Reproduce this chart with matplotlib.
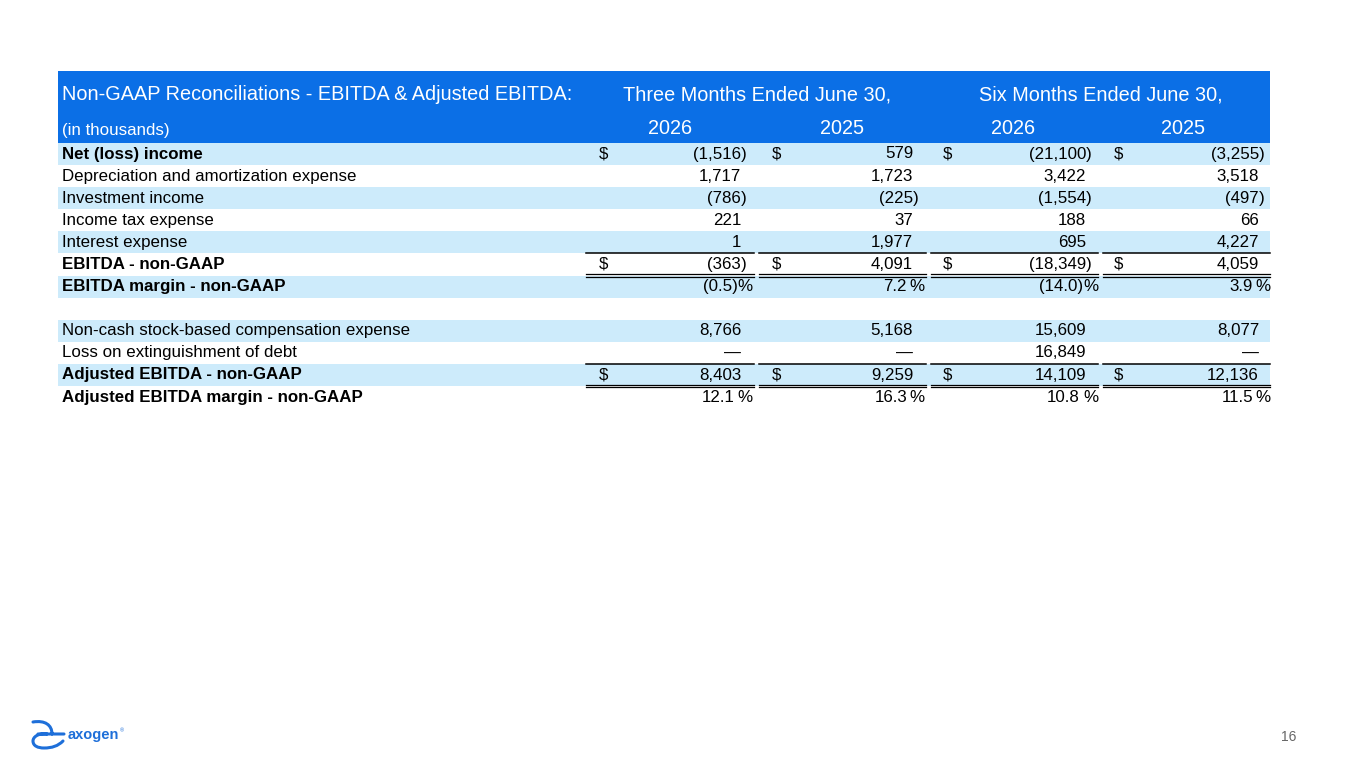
import matplotlib
matplotlib.use("Agg")
import matplotlib.pyplot as plt
from matplotlib.patches import Rectangle, PathPatch
from matplotlib.path import Path

plt.rcParams['font.family'] = ['Liberation Sans', 'DejaVu Sans']

# Dati della tabella
title = "Non-GAAP Reconciliations - EBITDA & Adjusted EBITDA:"
units = "(in thousands)"
periods = ["Three Months Ended June 30,", "Six Months Ended June 30,"]
years = ["2026", "2025", "2026", "2025"]

row_labels = [
    "Net (loss) income",
    "Depreciation and amortization expense",
    "Investment income",
    "Income tax expense",
    "Interest expense",
    "EBITDA - non-GAAP",
    "EBITDA margin - non-GAAP",
    "",
    "Non-cash stock-based compensation expense",
    "Loss on extinguishment of debt",
    "Adjusted EBITDA - non-GAAP",
    "Adjusted EBITDA margin - non-GAAP",
]
bold_rows = [0, 5, 6, 10, 11]
dollar_rows = [0, 5, 10]
pct_rows = [6, 11]
shaded_rows = [0, 2, 4, 6, 8, 10]

# None = riga vuota, 0 = trattino
q_2026 = [-1516, 1717, -786, 221, 1, -363, -0.5, None, 8766, 0, 8403, 12.1]
q_2025 = [579, 1723, -225, 37, 1977, 4091, 7.2, None, 5168, 0, 9259, 16.3]
h_2026 = [-21100, 3422, -1554, 188, 695, -18349, -14.0, None, 15609, 16849, 14109, 10.8]
h_2025 = [-3255, 3518, -497, 66, 4227, 4059, 3.9, None, 8077, 0, 12136, 11.5]
columns = [q_2026, q_2025, h_2026, h_2025]

BLUE = "#0B6FE6"
LIGHT = "#CDEBFB"
FS_HEAD = 14.3
FS = 12.2

fig = plt.figure(figsize=(13.65, 7.68), dpi=100)
ax = fig.add_axes([0, 0, 1, 1])
ax.set_xlim(0, 1365)
ax.set_ylim(768, 0)
ax.axis("off")

left, right = 58, 1270
row0, step = 154, 22.1
num_right = [741, 913, 1086, 1259]
dollar_x = [603, 776, 947, 1118]
seg = [(586, 754), (759, 926), (931, 1098), (1103, 1270)]

# Intestazione blu
ax.add_patch(Rectangle((left, 71), right - left, 72, color=BLUE, lw=0))
ax.text(62, 95, title, color="white", fontsize=FS_HEAD, va="center", ha="left")
ax.text(62, 130, units, color="white", fontsize=FS, va="center", ha="left")
for cx, p in zip([757, 1101], periods):
    ax.text(cx, 95, p, color="white", fontsize=FS_HEAD, va="center", ha="center")
for cx, yr in zip([670, 842, 1013, 1183], years):
    ax.text(cx, 129, yr, color="white", fontsize=FS_HEAD, va="center", ha="center")


for i, label in enumerate(row_labels):
    yc = row0 + i * step
    if i in shaded_rows:
        ax.add_patch(Rectangle((left, yc - step / 2), right - left, step,
                               color=LIGHT, lw=0))
    w = "bold" if i in bold_rows else "normal"
    ax.text(62, yc, label, fontsize=FS, fontweight=w, va="center", ha="left")
    for j, col in enumerate(columns):
        v = col[i]
        if v is None:
            continue
        nr = num_right[j]
        if i in pct_rows:
            s = f"{abs(v):.1f}"
            if v < 0:
                ax.text(nr - 3, yc, f"({s})", fontsize=FS, va="center", ha="right")
            else:
                ax.text(nr - 6, yc, s, fontsize=FS, va="center", ha="right")
            ax.text(nr + 12, yc, "%", fontsize=FS, va="center", ha="right")
        elif v == 0:
            ax.text(nr, yc, "—", fontsize=FS, va="center", ha="right")
        else:
            s = f"{abs(v):,}"
            ax.text(nr, yc, f"({s}" if v < 0 else s, fontsize=FS,
                    va="center", ha="right")
            if v < 0:
                ax.text(nr, yc, ")", fontsize=FS, va="center", ha="left")
        if i in dollar_rows:
            ax.text(dollar_x[j], yc, "$", fontsize=FS, va="center", ha="center")

# Linee di totale
for i in [5, 10]:
    y_top = row0 + (i - 0.5) * step
    y_bot = row0 + (i + 0.5) * step
    for x0, x1 in seg:
        ax.plot([x0, x1], [y_top, y_top], color="black", lw=1.1)
        ax.plot([x0, x1], [y_bot - 1.2, y_bot - 1.2], color="black", lw=0.9)
        ax.plot([x0, x1], [y_bot + 1.2, y_bot + 1.2], color="black", lw=0.9)

# Logo e numero di pagina
LOGO = "#1E6FD9"
M, C, L = Path.MOVETO, Path.CURVE4, Path.LINETO
verts = [(33, 722), (45, 720), (52, 725), (52, 734),
         (38, 734), (64, 734),
         (47, 734), (38, 733), (33, 737), (33, 741),
         (33, 746), (38, 748), (44, 748),
         (52, 748), (58, 746), (63, 741)]
codes = [M, C, C, C, M, L, M, C, C, C, C, C, C, C, C, C]
ax.add_patch(PathPatch(Path(verts, codes), fill=False, edgecolor=LOGO,
                       lw=2.2, capstyle="round"))
ax.text(68, 735, "axogen", color=LOGO, fontsize=10.5, fontweight="bold",
        va="center", ha="left")
ax.text(119.5, 731, "®", color=LOGO, fontsize=4, va="center", ha="left")
ax.text(1289, 737, "16", color="#666666", fontsize=10, va="center", ha="center")

fig.savefig("out.png", dpi=100)
